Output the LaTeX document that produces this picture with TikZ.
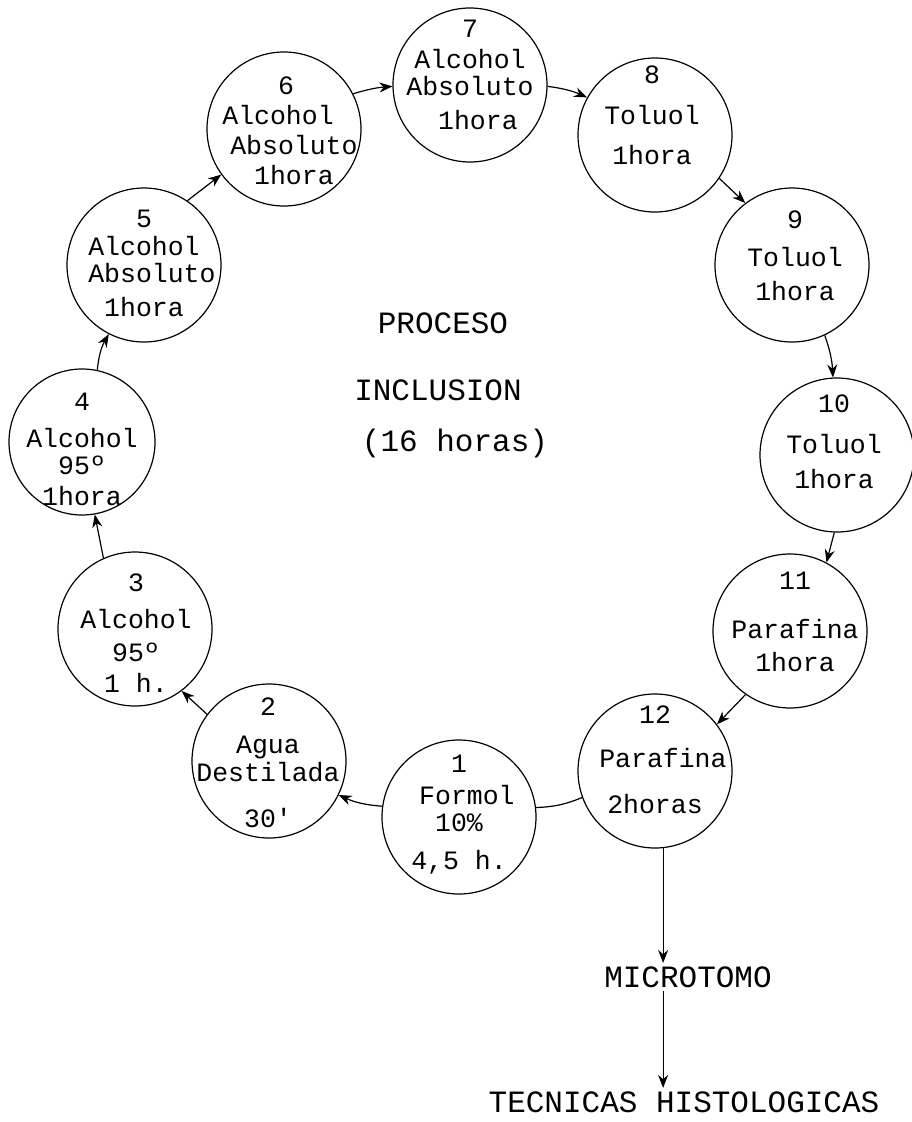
\documentclass[tikz,border=0pt]{standalone}
\usepackage{fontspec}
\usetikzlibrary{arrows.meta}
\newfontfamily\maquina{Liberation Mono}

\tikzset{
  paso/.style={draw, circle, line width=1.2pt, minimum size=154pt, inner sep=0pt},
  texto/.style={align=center, inner sep=0pt, font=\maquina\fontsize{26.5}{30}\selectfont},
  rotulo/.style={font=\maquina\fontsize{31}{34}\selectfont},
  flow/.style={-{Stealth[length=13pt,width=10pt]}, line width=1.2pt}
}

\begin{document}
\begin{tikzpicture}[x=1pt, y=-1pt]
    \useasboundingbox (0,0) rectangle (912,1122);

    % Circles of the cycle
    \node[paso] (c1) at (459,817) {};
    \node[paso] (c2) at (269,761) {};
    \node[paso] (c3) at (135,629) {};
    \node[paso, minimum size=146pt] (c4) at (82,442) {};
    \node[paso] (c5) at (144,265) {};
    \node[paso] (c6) at (284,129) {};
    \node[paso] (c7) at (470,85) {};
    \node[paso] (c8) at (655,135) {};
    \node[paso] (c9) at (792,265) {};
    \node[paso] (c10) at (837,455) {};
    \node[paso] (c11) at (790,631) {};
    \node[paso] (c12) at (655,771) {};

    % Texts inside the circles
    \node[texto] (t1) at (459,815) {1\\[2pt]~Formol\\[-3pt]10\%\\[8pt]4,5 h.};
    \node[texto] (t2) at (268,763) {2\\[8pt]Agua~\\[-2pt]Destilada\\[16pt]30'~};
    \node[texto] (t3) at (136,633) {3\\[7pt]Alcohol\\[3pt]95º~\\[1pt]1 h.};
    \node[texto] (t4) at (82,449) {4\\[7pt]Alcohol\\[-3pt]95º\\[1pt]1hora};
    \node[texto] (t5) at (144,263) {5\\[-2pt]Alcohol\\[-3pt]~Absoluto\\[4pt]1hora};
    \node[texto] (t6) at (286,131) {6\\Alcohol~~\\~Absoluto\\~1hora};
    \node[texto] (t7) at (470,75) {7\\[1pt]Alcohol\\[-3pt]Absoluto\\[4pt]~1hora};
    \node[texto] (t8) at (652,115) {8\\[11pt]Toluol\\[10pt]1hora};
    \node[texto] (t9) at (795,256) {9\\[8pt]Toluol\\[4pt]1hora};
    \node[texto] (t10) at (834,442) {10\\[11pt]Toluol\\[5pt]1hora};
    \node[texto] (t11) at (795,622) {11\\[19pt]Parafina\\[3pt]1hora};
    \node[texto] (t12) at (655,760) {12\\[14pt]~Parafina\\[16pt]2horas};

    % Centre title
    \node[rotulo] (proceso) at (443,323) {PROCESO};
    \node[rotulo] (inclusion) at (438,390) {INCLUSION};
    \node[rotulo] (horas) at (455,443) {(16 horas)};

    % Arrows round the cycle
    \draw[flow] (c1.172) to[bend left=10] (c2.-26);
    \draw[flow] (c2.143) -- (c3.-53);
    \draw[flow] (c3.114) -- (c4.-80);
    \draw[flow] (c4.78) to[bend left=12] (c5.-117);
    \draw[flow] (c5.56) -- (c6.216);
    \draw[flow] (c6.27) to[bend left=6] (c7.181);
    \draw[flow] (c7.-1) to[bend left=8] (c8.151);
    \draw[flow] (c8.-34) -- (c9.127);
    \draw[flow] (c9.-65) to[bend left=8] (c10.93);
    \draw[flow] (c10.-92) -- (c11.62);
    \draw[flow] (c11.-125) -- (c12.37);
    \draw[line width=1.2pt] (c12.200) to[bend left=10] (c1.7);

    % Way out of the cycle
    \node[rotulo] (micro) at (688,977) {MICROTOMO};
    \node[rotulo] (tecnicas) at (684,1102) {TECNICAS HISTOLOGICAS};
    \draw[flow] (c12.-84) -- (c12.-84 |- micro.north);
    \draw[flow] (c12.-84 |- micro.south) -- (c12.-84 |- tecnicas.north);
\end{tikzpicture}
\end{document}
